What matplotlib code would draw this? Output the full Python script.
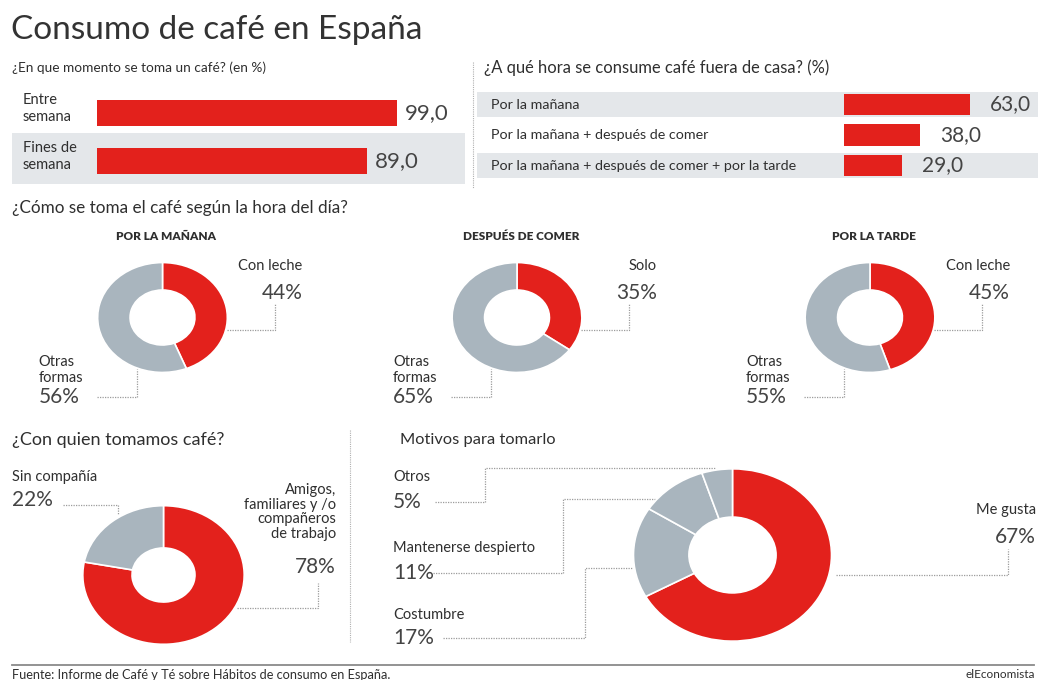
import matplotlib
matplotlib.use('Agg')
from matplotlib import pyplot as plt
from matplotlib import transforms
from matplotlib.patches import Rectangle

W, H = 1038, 680

RED = '#e3211c'
GREY = '#a9b5be'
ROW = '#e4e7ea'
TXT = '#2f2f2f'
NUM = '#444444'
LINE = '#9c9c9c'

momento_cats = ['Entre\nsemana', 'Fines de\nsemana']
momento_vals = [99.0, 89.0]

fuera_cats = ['Por la mañana',
              'Por la mañana + después de comer',
              'Por la mañana + después de comer + por la tarde']
fuera_vals = [63.0, 38.0, 29.0]

hora_titulos = ['POR LA MAÑANA', 'DESPUÉS DE COMER', 'POR LA TARDE']
hora_cats = ['Con leche', 'Solo', 'Con leche']
hora_vals = [44, 35, 45]
otras_cat = 'Otras\nformas'
otras_vals = [56, 65, 55]

compania_cats = ['Amigos,\nfamiliares y /o\ncompañeros\nde trabajo', 'Sin compañía']
compania_vals = [78, 22]

motivos_cats = ['Me gusta', 'Costumbre', 'Mantenerse despierto', 'Otros']
motivos_vals = [67, 17, 11, 5]

plt.rcParams['font.family'] = ['Lato', 'DejaVu Sans']

fig = plt.figure(figsize=(W / 100, H / 100), dpi=100)
canvas = fig.add_axes([0, 0, 1, 1])
canvas.set_xlim(0, W)
canvas.set_ylim(H, 0)
canvas.axis('off')


def px_axes(x0, y0, x1, y1):
    return fig.add_axes([x0 / W, 1 - y1 / H, (x1 - x0) / W, (y1 - y0) / H])


def txt(x, y, s, size, **kw):
    kw.setdefault('color', TXT)
    kw.setdefault('va', 'center')
    return canvas.text(x, y, s, fontsize=size, **kw)


def num(x, y, s, **kw):
    kw.setdefault('color', NUM)
    return txt(x, y, s, 15, **kw)


def leader(xs, ys):
    canvas.plot(xs, ys, color=LINE, lw=0.9, ls=(0, (1, 1)))


def donut(cx, cy, rx, ry, vals, colors, hole):
    ax = px_axes(cx - rx, cy - ry, cx + rx, cy + ry)
    ax.pie(vals, colors=colors, startangle=90, counterclock=False,
           wedgeprops=dict(width=1 - hole, edgecolor='white', linewidth=1.2))
    ax.set_aspect('auto')
    ax.set_xlim(-1.01, 1.01)
    ax.set_ylim(-1.01, 1.01)
    return ax


def coma(v):
    return f'{v:.1f}'.replace('.', ',')


# cabecera
txt(11, 30, 'Consumo de café en España', 24, color='#333333')
txt(12, 68, '¿En que momento se toma un café? (en %)', 9.8)
txt(484, 68, '¿A qué hora se consume café fuera de casa? (%)', 11.9)
canvas.plot([473, 473], [62, 188], color='#b0b0b0', lw=0.8, ls=(0, (1, 1)))

# barras: momento de la semana
top, pitch = 89, 48
for i in range(len(momento_vals)):
    if i % 2 == 1:
        yc = top + pitch * (i + 0.5)
        canvas.add_patch(Rectangle((12, yc - 28), 453, 51, color=ROW, lw=0))
ax = px_axes(97, top, 397, top + pitch * len(momento_vals))
ax.barh(range(len(momento_vals)), momento_vals, height=0.56, color=RED)
ax.set_xlim(0, max(momento_vals))
ax.set_ylim(len(momento_vals) - 0.5, -0.5)
ax.axis('off')
mix = transforms.blended_transform_factory(canvas.transData, ax.transData)
for i, (c, v) in enumerate(zip(momento_cats, momento_vals)):
    ax.text(23, i - 0.1, c, transform=mix, fontsize=10.5, color=TXT,
            va='center', linespacing=1.25)
    ax.annotate(coma(v), (v, i), xytext=(8, 0), textcoords='offset pixels',
                va='center', fontsize=16, color=NUM, annotation_clip=False)

# barras: fuera de casa
top, pitch = 89.25, 30.5
for i in range(len(fuera_vals)):
    if i % 2 == 0:
        yc = top + pitch * (i + 0.5)
        canvas.add_patch(Rectangle((477, yc - 12.5), W - 477, 25, color=ROW, lw=0))
ax = px_axes(844, top, 970, top + pitch * len(fuera_vals))
ax.barh(range(len(fuera_vals)), fuera_vals, height=0.72, color=RED)
ax.set_xlim(0, max(fuera_vals))
ax.set_ylim(len(fuera_vals) - 0.5, -0.5)
ax.axis('off')
mix = transforms.blended_transform_factory(canvas.transData, ax.transData)
for i, (c, v) in enumerate(zip(fuera_cats, fuera_vals)):
    ax.text(491, i, c, transform=mix, fontsize=10.3, color=TXT, va='center')
    ax.annotate(coma(v), (v, i), xytext=(20, 0), textcoords='offset pixels',
                va='center', fontsize=15, color=NUM, annotation_clip=False)

# donuts por hora del día
txt(12, 208, '¿Cómo se toma el café según la hora del día?', 12.3)
centros = [162.5, 517, 870]
cy, rx, ry = 317.5, 65.5, 55.5
for cx, tit, cat, v, ov in zip(centros, hora_titulos, hora_cats, hora_vals, otras_vals):
    donut(cx, cy, rx, ry, [v, ov], [RED, GREY], 0.5)
    txt(cx + 4, 237, tit, 8.5, fontweight='heavy', ha='center')
    txt(cx + 140, 266, cat, 10.5, ha='right')
    num(cx + 140, 293, f'{v}%', ha='right')
    leader([cx + 64, cx + 112, cx + 112], [330, 330, 303])
    txt(cx - 124, 370, otras_cat, 10.5, linespacing=1.15)
    num(cx - 124, 397, f'{ov}%')
    leader([cx - 66, cx - 26, cx - 26], [397, 397, cy + 51])

# con quién
txt(12, 440, '¿Con quien tomamos café?', 13)
canvas.plot([350, 350], [430, 642], color='#b0b0b0', lw=0.8, ls=(0, (1, 1)))
donut(163.5, 575, 81.5, 70, compania_vals, [RED, GREY], 0.39)
txt(12, 477, compania_cats[1], 10.5)
num(12, 500, f'{compania_vals[1]}%')
leader([63, 118, 118], [505, 505, 515])
txt(336, 512, compania_cats[0], 10.5, ha='right', multialignment='right',
    linespacing=1.05)
num(336, 567, f'{compania_vals[0]}%', ha='right')
leader([237, 318, 318], [608, 608, 583])

# motivos
txt(400, 440, 'Motivos para tomarlo', 11.8)
donut(732.5, 555, 100, 87, motivos_vals, [RED, GREY, GREY, GREY], 0.44)
txt(1036, 510, motivos_cats[0], 10.5, ha='right')
num(1036, 537, f'{motivos_vals[0]}%', ha='right')
leader([836, 1008, 1008], [575, 575, 549])
izq = [(477, 502, [435, 485, 485, 715], [502, 502, 468, 468]),
       (548, 573, [433, 563, 563, 655], [573, 573, 499, 499]),
       (615, 638, [443, 585, 585, 632], [638, 638, 568, 568])]
for (y1, y2, xs, ys), c, v in zip(izq, motivos_cats[:0:-1], motivos_vals[:0:-1]):
    txt(393, y1, c, 10.5)
    num(393, y2, f'{v}%')
    leader(xs, ys)

# pie
canvas.plot([12, 1034], [665, 665], color='#8a8a8a', lw=1.3)
txt(12, 675, 'Fuente: Informe de Café y Té sobre Hábitos de consumo en España.', 9.2)
txt(1035, 675, 'elEconomista', 8.5, ha='right')

fig.savefig('out.png', dpi=100, facecolor='white')
